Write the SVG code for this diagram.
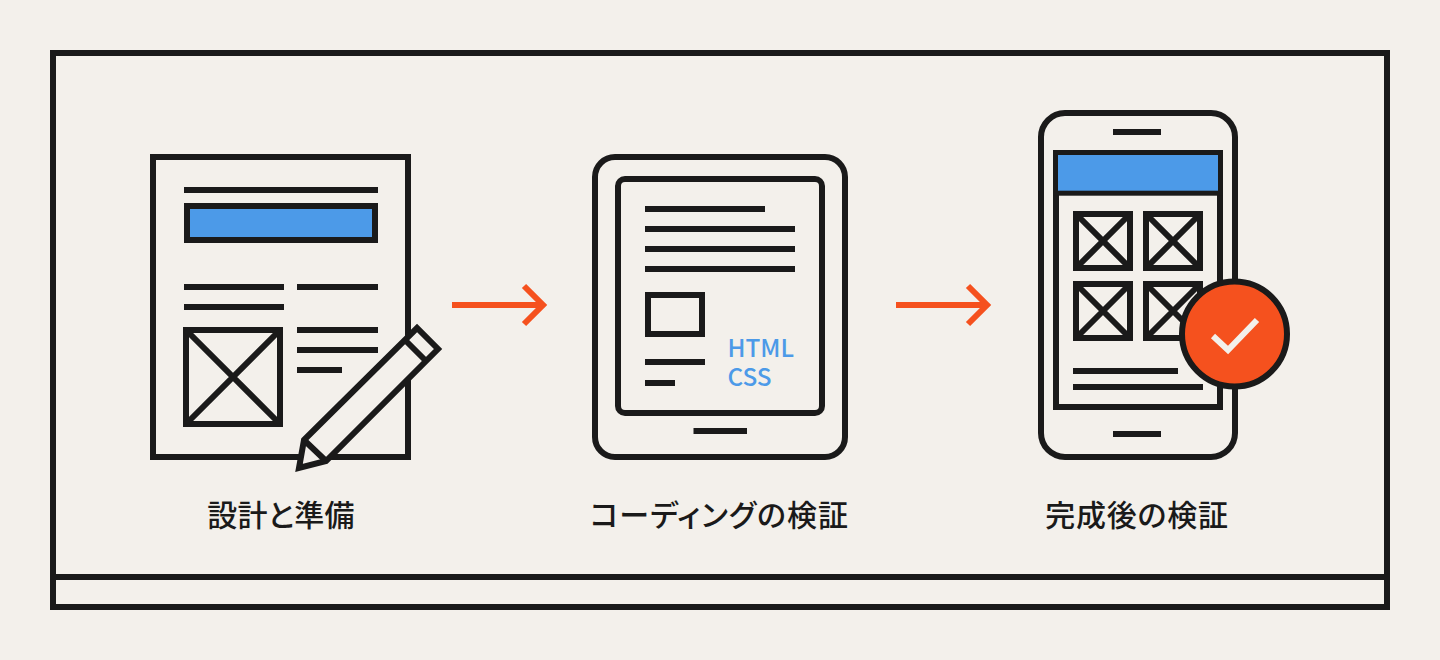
<svg xmlns="http://www.w3.org/2000/svg" width="1440" height="660" viewBox="0 0 1440 660">
<style>
.k{fill:none;stroke:#1a1a1a;stroke-width:6}
.p{fill:#f3f0eb;stroke:#1a1a1a;stroke-width:6}
.a{fill:none;stroke:#f5511e;stroke-width:6}
.l{font-family:"Noto Sans CJK JP","Noto Sans",sans-serif;font-size:30px;font-weight:500;fill:#1a1a1a;text-anchor:middle;font-feature-settings:"palt"}
.c{font-family:"Noto Sans CJK JP","Noto Sans",sans-serif;font-size:24.300px;font-weight:500;fill:#4c9ae8}
</style>
<defs>
<g id="thumb"><rect x="3" y="3" width="54" height="54" class="k"/><path d="M3 3L57 57M57 3L3 57" class="k"/></g>
</defs>
<rect width="1440" height="660" fill="#f3f0eb"/>
<g id="frame"><rect x="53" y="53" width="1334" height="554" class="k"/><path d="M53 577H1387" class="k"/></g>
<g id="connectors">
<path d="M452 305H543M524 286L543 305L524 324" class="a"/>
<path d="M896 305H987M968 286L987 305L968 324" class="a"/>
</g>
<g id="node-design">
<rect x="153" y="157" width="255" height="300" class="k"/>
<path d="M184 190H378M184 287H284M184 307H284M297 287H378M297 330H378M297 350H378M297 370H342" class="k"/>
<rect x="187" y="206" width="188" height="34" fill="#4c9ae8" stroke="#1a1a1a" stroke-width="6"/>
<rect x="186" y="330" width="94" height="94" class="k"/>
<path d="M186 330L280 424M280 330L186 424" class="k"/>
<path d="M304 440L417 328L438 349L326 461L299 468Z" class="p"/>
<path d="M304 440L326 461M405 340L426 361" class="k"/>
<text x="281" y="526" class="l" letter-spacing="0.2">設計と準備</text>
</g>
<g id="node-coding">
<rect x="595" y="157" width="250" height="300" rx="20" class="k"/>
<rect x="618" y="179" width="204" height="234" rx="7" class="k"/>
<path d="M645 209H765M645 229H795M645 249H795M645 269H795M645 362H705M645 383H675M693.5 431H747" class="k"/>
<rect x="648" y="295" width="54" height="39" class="k"/>
<text x="727.500" y="357" class="c">HTML</text>
<text x="727.500" y="386" class="c">CSS</text>
<text x="719.500" y="526" class="l" letter-spacing="1">コーディングの検証</text>
</g>
<g id="node-verify">
<rect x="1041" y="113" width="194" height="344" rx="24" class="k"/>
<path d="M1113 132H1161M1113 434H1161" class="k"/>
<rect x="1056" y="153" width="164" height="254" class="k"/>
<rect x="1055.500" y="152.500" width="165" height="40.700" fill="#4c9ae8" stroke="#1a1a1a" stroke-width="5"/>
<use href="#thumb" x="1073" y="211"/><use href="#thumb" x="1143" y="211"/>
<use href="#thumb" x="1073" y="281"/><use href="#thumb" x="1143" y="281"/>
<path d="M1073 371H1178M1073 387H1203" class="k"/>
<circle cx="1234.500" cy="334" r="52.500" fill="#f5511e" stroke="#1a1a1a" stroke-width="6"/>
<path d="M1213 336L1228 350L1257 320" fill="none" stroke="#f3f0eb" stroke-width="6"/>
<text x="1137" y="526" class="l" letter-spacing="0.8">完成後の検証</text>
</g>
</svg>
